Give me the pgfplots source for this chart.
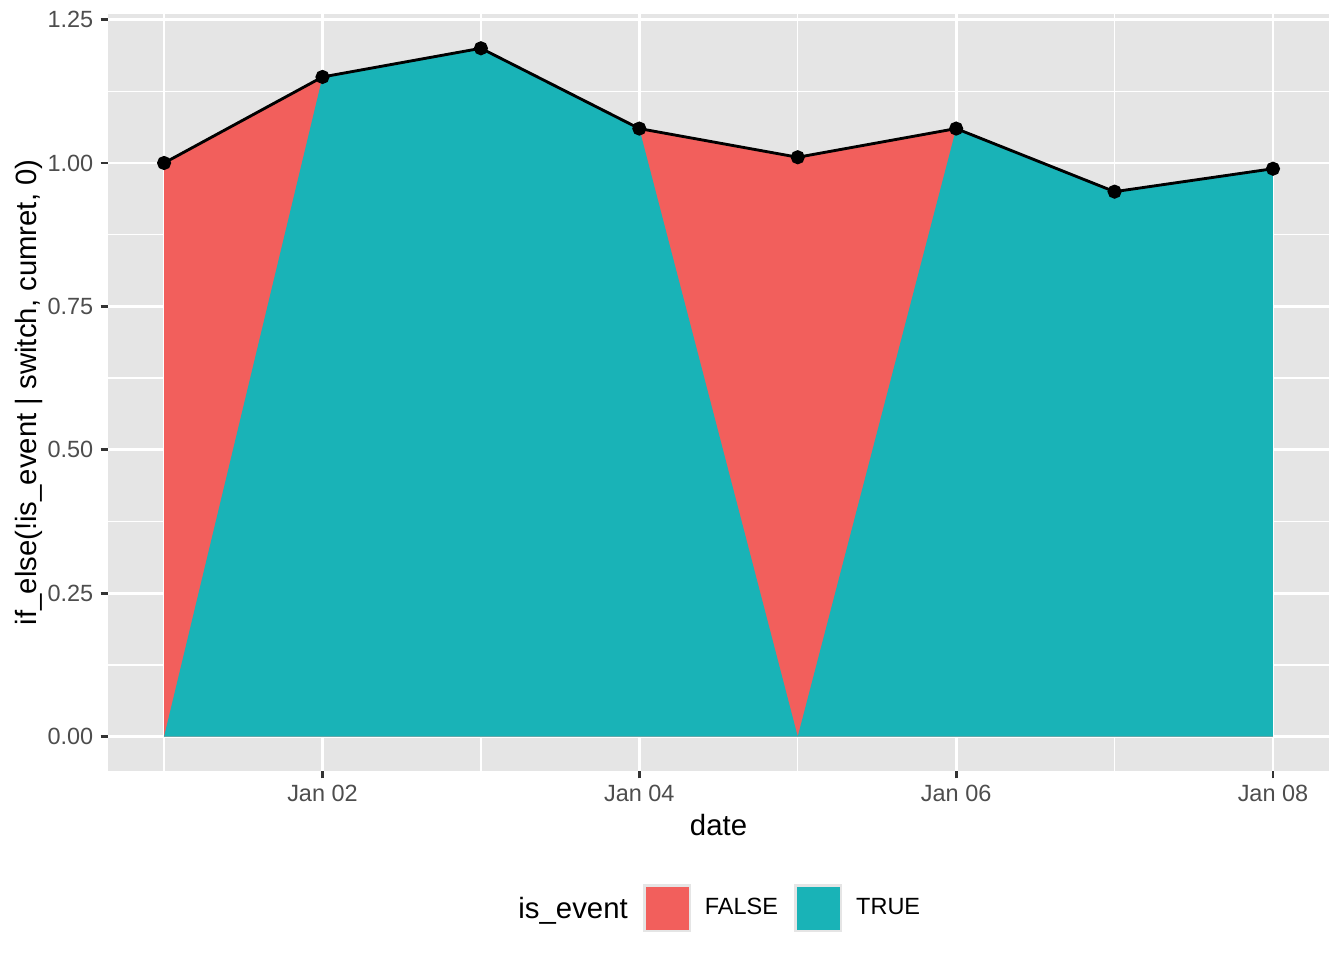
\documentclass[border=0pt]{standalone}
\usepackage{fontspec}
\setmainfont{Liberation Sans}
\usepackage{pgfplots}
\pgfplotsset{compat=1.18}
\definecolor{ggbg}{HTML}{E5E5E5}
\definecolor{ggred}{HTML}{F25F5C}
\definecolor{ggteal}{HTML}{19B3B7}
\definecolor{gray30}{HTML}{4D4D4D}
\definecolor{gray20}{HTML}{333333}
\begin{document}
\begin{tikzpicture}
\path[use as bounding box] (0pt,0pt) rectangle (504pt,360pt);
\begin{axis}[
  at={(40.5pt,70.9pt)}, anchor=south west,
  scale only axis, width=457.9pt, height=283.9pt,
  xmin=0.646, xmax=8.354, ymin=-0.06, ymax=1.26,
  axis background/.style={fill=ggbg},
  axis line style={draw=none},
  xtick={2,4,6,8}, xticklabels={Jan 02,Jan 04,Jan 06,Jan 08},
  minor xtick={1,3,5,7},
  ytick={0,0.25,0.5,0.75,1,1.25},
  minor ytick={0.125,0.375,0.625,0.875,1.125},
  /pgf/number format/assume math mode=true,
  yticklabel style={/pgf/number format/fixed, /pgf/number format/fixed zerofill, /pgf/number format/precision=2},
  grid=both,
  major grid style={white, line width=1.07pt},
  minor grid style={white, line width=0.53pt},
  minor tick length=0pt,
  major tick length=2.75pt,
  tick align=outside,
  xtick pos=bottom, ytick pos=left,
  tick style={gray20, line width=1.07pt},
  ticklabel style={font=\fontsize{8.8}{10}\selectfont, text=gray30, inner sep=0pt},
  xticklabel style={anchor=north, yshift=-2.5pt},
  yticklabel style={anchor=east, xshift=-2.6pt},
  xlabel={date},
  xlabel style={at={(axis description cs:0.5,-0.0711)}, anchor=center, inner sep=0pt, font=\fontsize{11}{13}\selectfont},
  ylabel={if\_else(!is\_event | switch, cumret, 0)},
  ylabel style={at={(axis description cs:-0.0650,0.5)}, anchor=center, inner sep=0pt, font=\fontsize{11}{13}\selectfont},
  legend style={draw=none, fill=none, inner sep=0pt, outer sep=0pt,
    at={(axis description cs:0.4383,-0.1811)}, anchor=west,
    font=\fontsize{8.8}{10}\selectfont,
    nodes={inner sep=0pt},
    /tikz/every odd column/.append style={column sep=5.25pt},
    /tikz/every even column/.append style={column sep=6.2pt}},
  legend columns=-1,
  legend cell align=left,
]
\addplot[fill=ggred, draw=none, forget plot] coordinates {
(1,0) (1,1.00) (2,1.15) (3,1.20) (4,1.06) (5,1.01) (6,1.06) (7,0.95) (8,0.99) (8,0)
} -- cycle;
\addplot[fill=ggteal, draw=none, forget plot] coordinates {
(1,0) (2,1.15) (3,1.20) (4,1.06) (5,0) (6,1.06) (7,0.95) (8,0.99) (8,0)
} -- cycle;
\addplot[black, line width=1.07pt, mark=*, mark size=2.1pt, forget plot] coordinates {
(1,1.00) (2,1.15) (3,1.20) (4,1.06) (5,1.01) (6,1.06) (7,0.95) (8,0.99)
};
\addlegendimage{legend image code/.code={\fill[ggbg] (0pt,-8.75pt) rectangle (17.5pt,8.75pt); \fill[ggred] (0.9pt,-7.85pt) rectangle (16.6pt,7.85pt);}}
\addlegendentry{FALSE}
\addlegendimage{legend image code/.code={\fill[ggbg] (0pt,-8.75pt) rectangle (17.5pt,8.75pt); \fill[ggteal] (0.9pt,-7.85pt) rectangle (16.6pt,7.85pt);}}
\addlegendentry{TRUE}
\end{axis}
\node[anchor=base east, inner sep=0pt, font=\fontsize{11}{13}\selectfont] at (235.6pt,15.6pt) {is\_event};
\end{tikzpicture}
\end{document}
